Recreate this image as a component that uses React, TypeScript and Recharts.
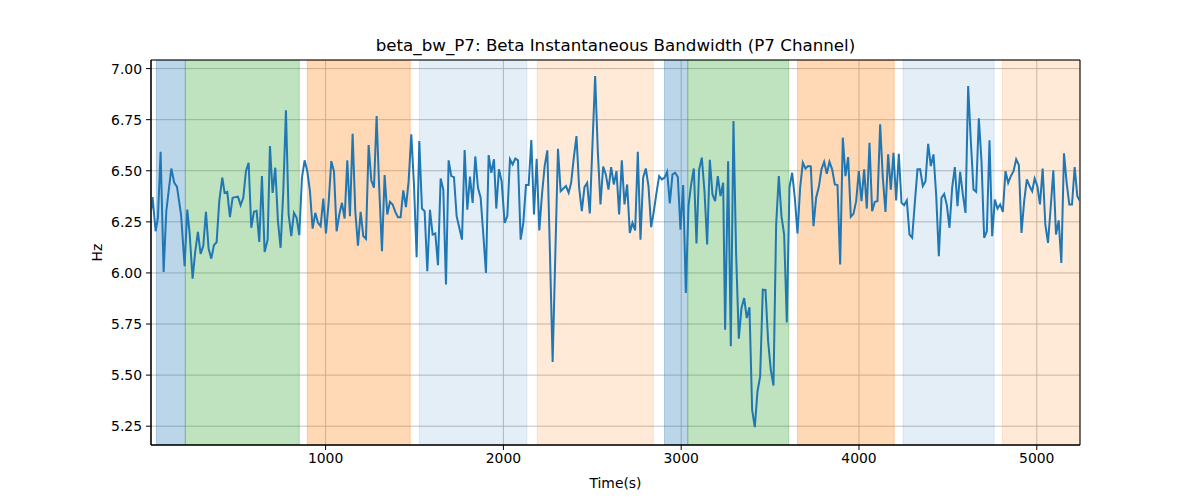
import React from 'react';
import { LineChart, Line, XAxis, YAxis, CartesianGrid, ReferenceArea, Label } from 'recharts';

// time axis (s) and beta bandwidth (Hz)
const timeSec = [
  18, 27, 44, 57, 72, 89, 104, 132, 149, 164, 187, 207, 222, 235, 252, 267, 282, 297, 312, 327,
  342, 357, 372, 387, 402, 419, 432, 447, 462, 477, 492, 507, 522, 537, 552, 567, 582, 597, 612, 627,
  642, 657, 674, 687, 702, 717, 732, 747, 762, 777, 792, 807, 822, 837, 852, 867, 882, 897, 912, 927,
  942, 957, 972, 987, 1002, 1017, 1032, 1047, 1062, 1077, 1092, 1107, 1122, 1137, 1152, 1167, 1182, 1197, 1212, 1227,
  1242, 1257, 1272, 1287, 1300, 1317, 1332, 1347, 1362, 1377, 1392, 1407, 1422, 1437, 1452, 1467, 1482, 1497, 1512, 1527,
  1542, 1557, 1572, 1587, 1602, 1617, 1632, 1647, 1662, 1677, 1692, 1707, 1722, 1737, 1752, 1767, 1782, 1797, 1812, 1827,
  1842, 1857, 1872, 1887, 1902, 1917, 1932, 1947, 1960, 1975, 1990, 2007, 2022, 2037, 2052, 2067, 2082, 2097, 2112, 2127,
  2142, 2157, 2172, 2187, 2202, 2217, 2232, 2247, 2262, 2277, 2292, 2307, 2322, 2337, 2352, 2367, 2381, 2396, 2411, 2426,
  2441, 2456, 2471, 2486, 2501, 2516, 2531, 2546, 2561, 2576, 2591, 2606, 2621, 2636, 2651, 2666, 2681, 2696, 2711, 2726,
  2741, 2756, 2771, 2786, 2801, 2816, 2831, 2846, 2861, 2876, 2891, 2906, 2921, 2936, 2951, 2966, 2981, 2996, 3011, 3026,
  3041, 3056, 3071, 3086, 3101, 3116, 3131, 3146, 3161, 3176, 3191, 3206, 3221, 3236, 3247, 3264, 3279, 3294, 3309, 3324,
  3339, 3354, 3369, 3384, 3399, 3414, 3429, 3444, 3459, 3474, 3489, 3504, 3519, 3534, 3549, 3564, 3579, 3594, 3609, 3624,
  3639, 3654, 3669, 3684, 3699, 3714, 3729, 3744, 3759, 3774, 3789, 3804, 3819, 3834, 3849, 3864, 3879, 3894, 3909, 3924,
  3939, 3954, 3969, 3984, 3999, 4014, 4029, 4044, 4059, 4074, 4089, 4104, 4119, 4134, 4149, 4164, 4179, 4194, 4209, 4224,
  4239, 4254, 4269, 4284, 4299, 4314, 4329, 4344, 4359, 4374, 4389, 4404, 4419, 4434, 4449, 4464, 4479, 4494, 4509, 4524,
  4539, 4554, 4569, 4584, 4599, 4614, 4629, 4644, 4659, 4674, 4689, 4704, 4719, 4734, 4749, 4764, 4779, 4794, 4809, 4824,
  4839, 4854, 4869, 4884, 4899, 4914, 4929, 4944, 4959, 4974, 4988, 5003, 5018, 5033, 5048, 5063, 5078, 5093, 5108, 5123,
  5138, 5153, 5168, 5183, 5198, 5213, 5228, 5243,
];

const betaBw = [
  6.302, 6.371, 6.204, 6.270, 6.593, 6.005, 6.302, 6.511, 6.441, 6.422, 6.286, 6.033, 6.310, 6.196, 5.972, 6.106, 6.201, 6.093, 6.131, 6.299,
  6.119, 6.070, 6.136, 6.150, 6.351, 6.466, 6.392, 6.397, 6.273, 6.368, 6.371, 6.373, 6.332, 6.368, 6.498, 6.539, 6.221, 6.299, 6.304, 6.152,
  6.474, 6.103, 6.163, 6.621, 6.392, 6.515, 6.253, 6.123, 6.400, 6.796, 6.286, 6.180, 6.294, 6.270, 6.185, 6.466, 6.551, 6.498, 6.400, 6.217,
  6.294, 6.245, 6.229, 6.364, 6.193, 6.343, 6.547, 6.498, 6.204, 6.286, 6.343, 6.266, 6.551, 6.278, 6.681, 6.302, 6.134, 6.299, 6.180, 6.167,
  6.626, 6.453, 6.417, 6.768, 6.449, 6.106, 6.479, 6.286, 6.348, 6.335, 6.299, 6.273, 6.273, 6.404, 6.322, 6.449, 6.678, 6.433, 6.077, 6.645,
  6.315, 6.302, 6.008, 6.309, 6.188, 6.193, 6.038, 6.462, 6.408, 5.943, 6.551, 6.474, 6.469, 6.278, 6.221, 6.163, 6.601, 6.310, 6.471, 6.343,
  6.570, 6.417, 6.368, 6.188, 6.000, 6.577, 6.490, 6.556, 6.315, 6.507, 6.449, 6.245, 6.278, 6.556, 6.531, 6.560, 6.551, 6.163, 6.245, 6.430,
  6.430, 6.650, 6.286, 6.559, 6.208, 6.384, 6.523, 6.600, 6.090, 5.564, 6.090, 6.608, 6.400, 6.413, 6.425, 6.392, 6.441, 6.564, 6.670, 6.417,
  6.302, 6.420, 6.441, 6.291, 6.629, 6.964, 6.596, 6.335, 6.520, 6.482, 6.408, 6.518, 6.433, 6.498, 6.286, 6.551, 6.335, 6.433, 6.196, 6.245,
  6.208, 6.593, 6.163, 6.466, 6.511, 6.425, 6.224, 6.302, 6.392, 6.474, 6.458, 6.466, 6.495, 6.340, 6.482, 6.490, 6.469, 6.212, 6.430, 5.902,
  6.327, 6.433, 6.511, 6.144, 6.507, 6.564, 6.400, 6.139, 6.554, 6.384, 6.351, 6.474, 6.376, 6.441, 5.722, 6.547, 5.641, 6.743, 6.090, 5.678,
  5.828, 5.877, 5.779, 5.832, 5.330, 5.245, 5.420, 5.493, 5.918, 5.917, 5.665, 5.526, 5.449, 6.237, 6.474, 6.278, 6.188, 5.758, 6.420, 6.490,
  6.368, 6.193, 6.417, 6.539, 6.511, 6.523, 6.521, 6.229, 6.368, 6.420, 6.507, 6.544, 6.485, 6.544, 6.507, 6.433, 6.430, 6.041, 6.662, 6.474,
  6.567, 6.275, 6.289, 6.351, 6.498, 6.351, 6.507, 6.315, 6.637, 6.302, 6.348, 6.351, 6.727, 6.466, 6.299, 6.580, 6.408, 6.588, 6.355, 6.583,
  6.343, 6.332, 6.355, 6.188, 6.172, 6.343, 6.507, 6.507, 6.425, 6.449, 6.632, 6.523, 6.580, 6.384, 6.082, 6.368, 6.387, 6.332, 6.221, 6.417,
  6.518, 6.327, 6.495, 6.384, 6.294, 6.915, 6.645, 6.408, 6.397, 6.757, 6.547, 6.172, 6.204, 6.649, 6.180, 6.359, 6.315, 6.335, 6.299, 6.498,
  6.441, 6.474, 6.498, 6.556, 6.528, 6.196, 6.351, 6.458, 6.425, 6.400, 6.462, 6.425, 6.335, 6.511, 6.237, 6.147, 6.319, 6.502, 6.188, 6.257,
  6.049, 6.585, 6.441, 6.335, 6.335, 6.518, 6.376, 6.351,
];

// shaded segments
const spanStart = [48, 211, 897, 1527, 2190, 2906, 3037, 3654, 4248, 4807];
const spanEnd = [211, 852, 1476, 2132, 2843, 3037, 3605, 4198, 4760, 5243];
const spanColor = ['#1f77b4', '#2ca02c', '#ff7f0e', '#1f77b4', '#ff7f0e', '#1f77b4', '#2ca02c', '#ff7f0e', '#1f77b4', '#ff7f0e'];
const spanAlpha = [0.3, 0.3, 0.3, 0.12, 0.16, 0.3, 0.3, 0.3, 0.12, 0.16];

const xTicks = [1000, 2000, 3000, 4000, 5000];
const yTicks = [5.25, 5.5, 5.75, 6.0, 6.25, 6.5, 6.75, 7.0];
const xDomain = [18, 5243];
const yDomain = [5.158, 7.042];

const data = timeSec.map((t, i) => ({ t, bw: betaBw[i] }));

const FONT = 'DejaVu Sans, sans-serif';
const tickStyle = { fontSize: 13.9, fill: '#000', fontFamily: FONT };

export default function App() {
  return (
    <div style={{ position: 'absolute', left: 0, top: 0, width: 1200, height: 500, background: '#fff', fontFamily: FONT }}>
      <div
        style={{
          position: 'absolute',
          left: 151,
          width: 929,
          top: 35,
          textAlign: 'center',
          fontSize: 16.7,
          lineHeight: '20px',
          color: '#000',
        }}
      >
        beta_bw_P7: Beta Instantaneous Bandwidth (P7 Channel)
      </div>
      <LineChart width={1200} height={500} data={data} margin={{ top: 60, right: 120, bottom: 0, left: 0 }}>
        <CartesianGrid stroke="#b0b0b0" strokeWidth={0.8} />
        {spanStart.map((s, i) => (
          <ReferenceArea
            key={`span-${i}`}
            x1={s}
            x2={spanEnd[i]}
            fill={spanColor[i]}
            fillOpacity={spanAlpha[i]}
            stroke={spanColor[i]}
            strokeOpacity={spanAlpha[i]}
            ifOverflow="hidden"
          />
        ))}
        <XAxis
          dataKey="t"
          type="number"
          domain={xDomain}
          allowDataOverflow
          ticks={xTicks}
          height={55}
          tick={tickStyle}
          tickSize={5}
          tickMargin={3}
          stroke="#000"
          tickLine={{ stroke: '#000' }}
        >
          <Label value="Time(s)" position="insideBottom" offset={12} style={{ fontSize: 13.9, fill: '#000', fontFamily: FONT }} />
        </XAxis>
        <YAxis
          type="number"
          domain={yDomain}
          allowDataOverflow
          ticks={yTicks}
          width={151}
          tick={tickStyle}
          tickSize={5}
          tickMargin={4}
          tickFormatter={(v: number) => v.toFixed(2)}
          stroke="#000"
          tickLine={{ stroke: '#000' }}
        >
          <Label
            content={(props: any) => {
              const vb = props.viewBox || { x: 0, y: 60, width: 151, height: 385 };
              const cx = 97;
              const cy = vb.y + vb.height / 2;
              return (
                <text
                  x={cx}
                  y={cy}
                  transform={`rotate(-90, ${cx}, ${cy})`}
                  textAnchor="middle"
                  dominantBaseline="central"
                  style={{ fontSize: 13.9, fill: '#000', fontFamily: FONT }}
                >
                  Hz
                </text>
              );
            }}
          />
        </YAxis>
        <Line
          type="linear"
          dataKey="bw"
          stroke="#1f77b4"
          strokeWidth={2}
          dot={false}
          isAnimationActive={false}
        />
        <ReferenceArea x1={xDomain[0]} x2={xDomain[1]} y1={yDomain[0]} y2={yDomain[1]} fill="none" stroke="#000" strokeWidth={1} />
      </LineChart>
    </div>
  );
}
